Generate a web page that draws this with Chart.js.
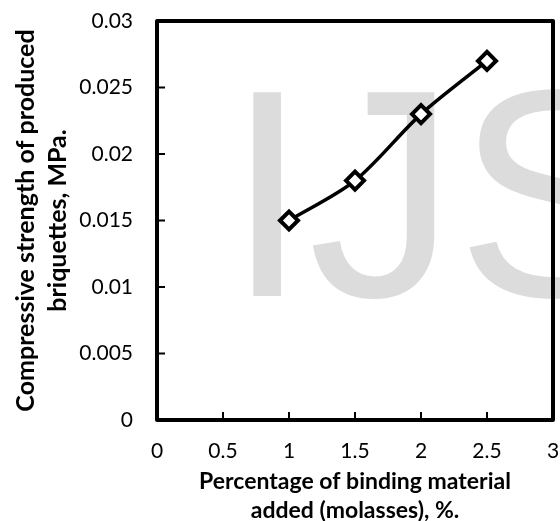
<!DOCTYPE html>
<html>
<head>
<meta charset="utf-8">
<script src="https://cdn.jsdelivr.net/npm/chart.js@4"></script>
<style>
  html, body { margin: 0; padding: 0; background: #fff; }
  #wrap { width: 560px; height: 521px; }
</style>
</head>
<body>
<div id="wrap"><canvas id="strengthChart"></canvas></div>
<script>
// data
var molasses = [1, 1.5, 2, 2.5];                 // % binding material
var strength = [0.015, 0.018, 0.023, 0.027];     // MPa
var xTicks = [0, 0.5, 1, 1.5, 2, 2.5, 3];
var yTicks = [0, 0.005, 0.01, 0.015, 0.02, 0.025, 0.03];
var xTickLabels = ['0', '0.5', '1', '1.5', '2', '2.5', '3'];
var yTickLabels = ['0', '0.005', '0.01', '0.015', '0.02', '0.025', '0.03'];

var points = molasses.map(function (x, i) { return { x: x, y: strength[i] }; });

// watermark behind the line
var watermark = {
    id: 'watermark',
    beforeDatasetsDraw: function (chart) {
        var ctx = chart.ctx;
        ctx.save();
        ctx.fillStyle = '#dcdcdc';
        ctx.font = '296px "Liberation Sans", Arial, sans-serif';
        ctx.textBaseline = 'alphabetic';
        ctx.textAlign = 'left';
        ctx.fillText('IJS', 226, 296);
        ctx.restore();
    }
};

// box frame + inward tick marks
var frame = {
    id: 'frame',
    afterDatasetsDraw: function (chart) {
        var ctx = chart.ctx, a = chart.chartArea;
        var xs = chart.scales.x, ys = chart.scales.y;
        ctx.save();
        ctx.strokeStyle = '#000';
        ctx.lineWidth = 2;
        ctx.beginPath();
        xTicks.forEach(function (v) {
            var px = xs.getPixelForValue(v);
            ctx.moveTo(px, a.bottom);
            ctx.lineTo(px, a.bottom - 8);
        });
        yTicks.forEach(function (v) {
            var py = ys.getPixelForValue(v);
            ctx.moveTo(a.left, py);
            ctx.lineTo(a.left + 8, py);
        });
        ctx.stroke();
        ctx.lineWidth = 4;
        ctx.lineJoin = 'round';
        ctx.strokeRect(a.left, a.top, a.right - a.left, a.bottom - a.top);
        ctx.restore();
    }
};

var ctx = document.getElementById('strengthChart').getContext('2d');
var chart = new Chart(ctx, {
    type: 'line',
    data: {
        datasets: [{
            data: points,
            borderColor: '#000',
            borderWidth: 3.5,
            tension: 0.3,
            pointStyle: 'rectRot',
            pointRadius: 9,
            pointBorderWidth: 4,
            pointBackgroundColor: '#fff',
            pointBorderColor: '#000',
            clip: false
        }]
    },
    options: {
        responsive: true,
        maintainAspectRatio: false,
        animation: false,
        layout: { autoPadding: false, padding: { top: 21, right: 7, left: 0, bottom: 0 } },
        plugins: {
            legend: { display: false },
            tooltip: { enabled: false }
        },
        scales: {
            x: {
                type: 'linear',
                min: 0,
                max: 3,
                afterFit: function (s) {
                    s.height = 101;
                    s.paddingLeft = 0; s.paddingRight = 0;
                },
                afterBuildTicks: function (s) { s.ticks = xTicks.map(function (v) { return { value: v }; }); },
                grid: { drawOnChartArea: false, drawTicks: false },
                border: { display: false },
                ticks: {
                    padding: 19,
                    color: '#000',
                    font: { family: 'Lato', size: 21 },
                    callback: function (v, i) { return xTickLabels[i]; }
                },
                title: {
                    display: true,
                    text: ['Percentage of binding material', 'added (molasses), %.'],
                    color: '#000',
                    font: { family: 'Lato', size: 23, weight: 'bold', lineHeight: '29px' },
                    padding: { top: 0, bottom: -4 }
                }
            },
            y: {
                min: 0,
                max: 0.03,
                afterFit: function (s) {
                    s.width = 157;
                    s.paddingTop = 0; s.paddingBottom = 0;
                },
                afterBuildTicks: function (s) { s.ticks = yTicks.map(function (v) { return { value: v }; }); },
                grid: { drawOnChartArea: false, drawTicks: false },
                border: { display: false },
                ticks: {
                    padding: 24,
                    color: '#000',
                    font: { family: 'Lato', size: 21 },
                    callback: function (v, i) { return yTickLabels[i]; }
                },
                title: {
                    display: true,
                    text: ['Compressive strength of produced', 'briquettes, MPa.'],
                    color: '#000',
                    font: { family: 'Lato', size: 25, weight: 'bold', lineHeight: '32px' },
                    padding: { top: 10, bottom: 0 }
                }
            }
        }
    },
    plugins: [watermark, frame]
});
</script>
</body>
</html>
